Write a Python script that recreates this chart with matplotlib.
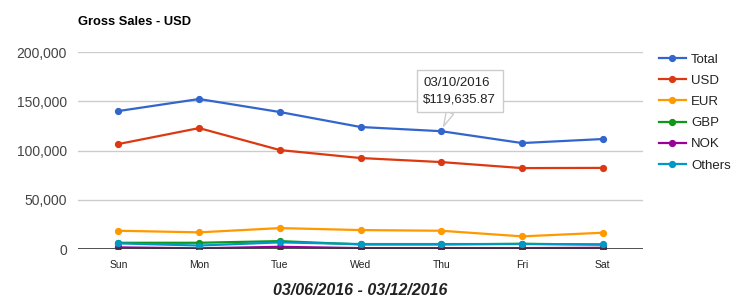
import matplotlib.pyplot as plt

plt.rcParams['font.family'] = ['Liberation Sans', 'DejaVu Sans']

days = ['Sun', 'Mon', 'Tue', 'Wed', 'Thu', 'Fri', 'Sat']
total = [140100, 152300, 139100, 123900, 119635.87, 107600, 111700]
usd = [106600, 122800, 100500, 92400, 88300, 82200, 82400]
eur = [18600, 17000, 21300, 19300, 18600, 12900, 16600]
gbp = [6400, 6400, 8100, 4700, 4700, 5400, 4500]
nok = [1700, 800, 2300, 1000, 1000, 1000, 1300]
others = [5800, 3600, 6800, 5100, 5100, 5100, 4800]

series = [('Total', total, '#3366cc'), ('USD', usd, '#dc3912'),
          ('EUR', eur, '#ff9900'), ('GBP', gbp, '#109618'),
          ('NOK', nok, '#990099'), ('Others', others, '#0099c6')]

fig = plt.figure(figsize=(7.47, 3.06), dpi=100)
ax = fig.add_axes([0.1044, 0.186, 0.7566, 0.644])

x = list(range(len(days)))
for name, vals, color in series:
    ax.plot(x, vals, color=color, lw=1.6, marker='o', markersize=4.2, label=name)

ax.set_xlim(-0.5, 6.5)
ax.set_ylim(0, 200000)
ax.set_yticks([0, 50000, 100000, 150000, 200000])
ax.set_yticklabels(['0', '50,000', '100,000', '150,000', '200,000'])
ax.set_xticks(x)
ax.set_xticklabels(days)
ax.grid(axis='y', color='#cccccc', lw=1)
ax.set_axisbelow(True)
for s in ax.spines.values():
    s.set_visible(False)
ax.axhline(0, color='#333333', lw=1.2)
ax.tick_params(axis='y', length=0, labelsize=10, labelcolor='#444444', pad=8)
ax.tick_params(axis='x', length=0, labelsize=7.5, labelcolor='#222222', pad=8)

ax.set_xlabel('03/06/2016 - 03/12/2016', fontsize=11.5, fontweight='bold',
              fontstyle='italic', color='#222222', labelpad=9)
fig.text(78 / 747, 1 - 22 / 306, 'Gross Sales - USD', fontsize=9.3,
         fontweight='bold', va='center', ha='left')

ax.annotate('03/10/2016\n$119,635.87', xy=(4, total[4]), xytext=(-18, 40),
            textcoords='offset pixels', ha='left', va='center', fontsize=9.5,
            color='#222222', linespacing=1.5,
            bbox=dict(boxstyle='square,pad=0.5', fc='white', ec='#cccccc', lw=1),
            arrowprops=dict(arrowstyle='wedge,tail_width=0.6', fc='white',
                            ec='#cccccc', lw=1, shrinkA=0, shrinkB=4))

leg = fig.legend(loc='upper left', bbox_to_anchor=(654 / 747, 1 - 48 / 306),
                 frameon=False, fontsize=9.5, labelspacing=0.68, handlelength=2.0,
                 handletextpad=0.4, borderaxespad=0)
for t in leg.get_texts():
    t.set_color('#222222')

fig.savefig('out.png', dpi=100)
